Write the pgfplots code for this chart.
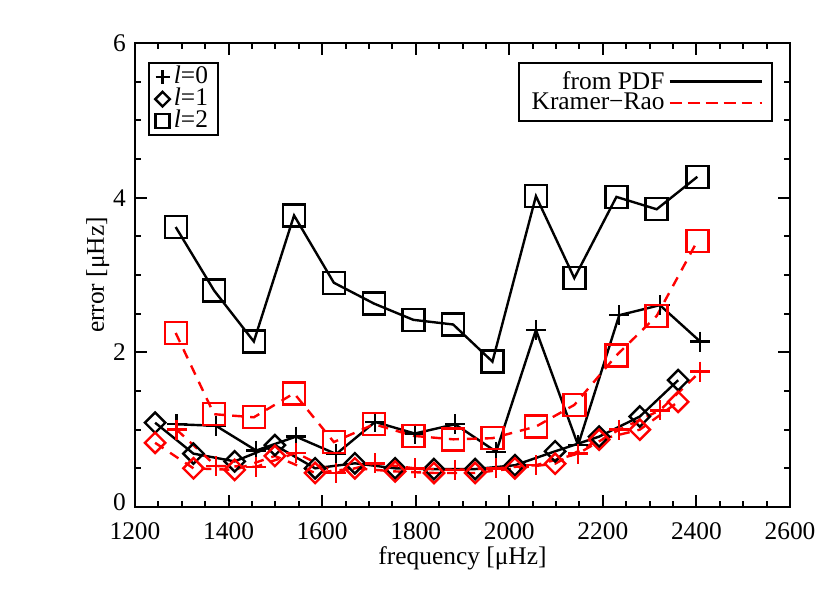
\documentclass[border=0pt]{standalone}
\usepackage{fontspec}
\setmainfont{Liberation Serif}
\usepackage{pgfplots}
\pgfplotsset{compat=1.18}
\definecolor{myred}{rgb}{1,0,0}
\pgfplotsset{
  base/.style={
    scale only axis, width=327.5pt, height=232pt,
    xmin=1200, xmax=2600, ymin=0, ymax=6,
  },
}
\begin{document}
\begin{tikzpicture}
\useasboundingbox (-67.5pt,-43pt) rectangle (347.5pt,253.5pt);
\begin{axis}[
  base,
  xtick={1200,1400,...,2600}, ytick={0,2,4,6},
  yticklabels={\raisebox{5pt}{0},2,4,\raisebox{-2pt}{6}},
  minor x tick num=3, minor y tick num=3,
  tick align=inside,
  major tick length=6pt, minor tick length=3pt,
  axis line style={line width=1.1pt},
  every tick/.style={black, line width=1pt},
  tick label style={font=\fontsize{12.7}{15}\selectfont},
  label style={font=\fontsize{12.7}{15}\selectfont},
  /pgf/number format/assume math mode=true,
  /pgf/number format/1000 sep={},
  xticklabel style={yshift=-4.5pt},
  yticklabel style={xshift=-1pt},
  xlabel={frequency [μHz]}, ylabel={error [μHz]},
  xlabel style={at={(axis description cs:0.5,-0.111)}, anchor=center},
  ylabel style={at={(axis description cs:-0.057,0.5)}, anchor=center},
  legend style={at={(0.02,0.959)}, anchor=north west, draw=black, line width=1.1pt,
    font=\fontsize{12.7}{14}\selectfont, inner xsep=3pt, inner ysep=1.5pt, row sep=0pt,
    nodes={inner ysep=0pt, text height=8.8pt, text depth=2.2pt}},
  legend cell align=left,
]
% l=2 from PDF
\addplot[forget plot, black, line width=1.2pt, mark=square, mark size=5.5pt, mark options={solid}] coordinates {
(1287,3.62) (1369,2.80) (1454,2.14) (1540,3.77) (1625,2.90) (1711,2.63) (1795,2.42)
(1880,2.36) (1964,1.88) (2057,4.02) (2139,2.96) (2229,4.01) (2315,3.85) (2402,4.27)};
% l=0 from PDF
\addplot[forget plot, black, line width=1.2pt, mark=+, mark size=5pt, mark options={solid}] coordinates {
(1289,1.07) (1373,1.05) (1459,0.73) (1544,0.91) (1630,0.685) (1713,1.10) (1798,0.95)
(1884,1.07) (1972,0.715) (2057,2.29) (2147,0.80) (2235,2.48) (2322,2.61) (2408,2.14)};
% l=1 from PDF
\addplot[forget plot, black, line width=1.2pt, mark=square, mark size=3.6pt, mark options={solid, rotate=45}] coordinates {
(1243,1.09) (1325,0.69) (1413,0.59) (1499,0.80) (1585,0.50) (1670,0.565) (1756,0.50)
(1839,0.49) (1927,0.49) (2012,0.54) (2098,0.72) (2192,0.91) (2279,1.17) (2361,1.64)};
% l=2 Kramer-Rao
\addplot[forget plot, myred, line width=1.2pt, dash pattern=on 5pt off 4pt, mark=square, mark size=5.5pt, mark options={solid}] coordinates {
(1287,2.25) (1369,1.20) (1454,1.16) (1540,1.47) (1625,0.84) (1711,1.07) (1795,0.92)
(1880,0.875) (1964,0.89) (2057,1.04) (2139,1.32) (2229,1.96) (2315,2.47) (2402,3.44)};
% l=0 Kramer-Rao
\addplot[forget plot, myred, line width=1.2pt, dash pattern=on 5pt off 4pt, mark=+, mark size=5pt, mark options={solid}] coordinates {
(1289,1.00) (1373,0.53) (1459,0.52) (1544,0.70) (1630,0.44) (1713,0.565) (1798,0.50)
(1884,0.48) (1972,0.50) (2057,0.54) (2147,0.69) (2235,1.00) (2322,1.25) (2408,1.75)};
% l=1 Kramer-Rao
\addplot[forget plot, myred, line width=1.2pt, dash pattern=on 5pt off 4pt, mark=square, mark size=3.6pt, mark options={solid, rotate=45}] coordinates {
(1243,0.83) (1325,0.50) (1413,0.48) (1499,0.66) (1585,0.44) (1670,0.50) (1756,0.46)
(1839,0.44) (1927,0.44) (2012,0.50) (2098,0.56) (2192,0.87) (2279,1.00) (2361,1.36)};
\addlegendimage{only marks, black, line width=1.2pt, mark=+, mark size=3.5pt}
\addlegendentry{\textit{l}=0}
\addlegendimage{only marks, black, line width=1.2pt, mark=square, mark size=2.6pt, mark options={rotate=45}}
\addlegendentry{\textit{l}=1}
\addlegendimage{only marks, black, line width=1.2pt, mark=square, mark size=3.5pt}
\addlegendentry{\textit{l}=2}
\end{axis}
\begin{axis}[
  base, hide axis,
  legend style={at={(0.974,0.959)}, anchor=north east, draw=black, line width=1.1pt,
    font=\fontsize{12.7}{14}\selectfont, inner xsep=4.5pt, inner ysep=2pt, row sep=-3.5pt},
  legend plot pos=right, legend cell align=right,
  legend image code/.code={\draw[#1] (1pt,0pt) -- (37pt,0pt); \path (0pt,0pt) -- (46pt,0pt);},
]
\addlegendimage{black, line width=1.2pt}
\addlegendentry{from PDF}
\addlegendimage{myred, line width=1.2pt, dash pattern=on 5pt off 4pt}
\addlegendentry{Kramer−Rao}
\end{axis}
\end{tikzpicture}
\end{document}
